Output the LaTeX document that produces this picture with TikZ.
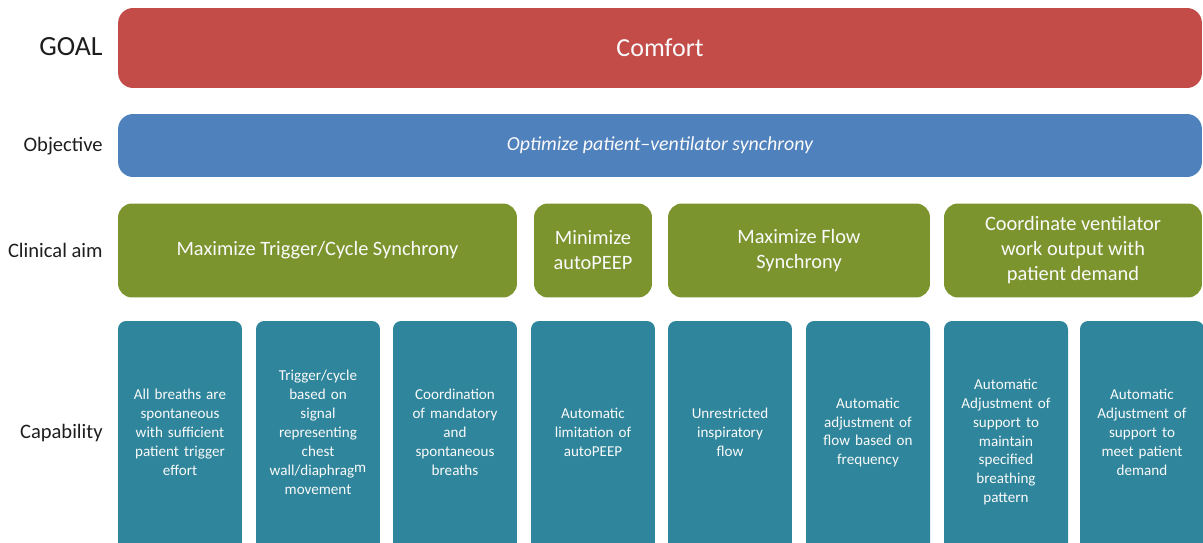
\documentclass[tikz,border=0pt]{standalone}
\usepackage{fontspec}
\setmainfont{Carlito}
\usepackage{xcolor}
\definecolor{Col1}{RGB}{195,76,72}
\definecolor{Col2}{RGB}{79,129,189}
\definecolor{Col3}{RGB}{124,148,46}
\definecolor{Col4}{RGB}{47,133,155}
\definecolor{ColTxt}{RGB}{30,30,30}
\usepackage{tikz}
\tikzstyle{RowLabel}=[anchor=east,inner sep=0pt,text=ColTxt,
font=\fontsize{11.7}{14}\selectfont]
\tikzstyle{Box}=[inner sep=0pt,text=white!96!gray,align=center]
\tikzstyle{WideBox}=[Box,minimum width=21.68cm,rounded corners=.3cm]
\tikzstyle{AimBox}=[Box,fill=Col3,minimum height=1.88cm,rounded corners=.28cm,
font=\fontsize{11.6}{14.2}\selectfont]
\tikzstyle{CapBox}=[Box,fill=Col4,minimum width=2.48cm,minimum height=4.8cm,
text width=2.3cm,rounded corners=.16cm,font=\fontsize{8.6}{10.8}\selectfont,
execute at end node={\endgraf\vspace*{.34cm}}]

\begin{document}
\begin{tikzpicture}[x=.02cm,y=-.02cm]
    \useasboundingbox(0,0)rectangle(1203,543);
    % row labels
    \node[RowLabel,font=\fontsize{15.8}{18}\selectfont](lgoal)at(103,47){GOAL};
    \node[RowLabel](lobj)at(103,146){Objective};
    \node[RowLabel](laim)at(103,250){Clinical aim};
    \node[RowLabel](lcap)at(103,433.5){Capability};
    % goal and objective bars
    \node[WideBox,fill=Col1,minimum height=1.6cm,
        font=\fontsize{14.8}{17}\selectfont](goal)at(660,48){Comfort};
    \node[WideBox,fill=Col2,minimum height=1.26cm,
        font=\fontsize{11.3}{13}\selectfont\itshape](obj)at(660,145.5){
        Optimize patient--ventilator synchrony};
    % clinical aims
    \node[AimBox,minimum width=7.98cm](aim1)at(317.5,250.5){
        Maximize Trigger/Cycle Synchrony};
    \node[AimBox,minimum width=2.36cm](aim2)at(593,250.5){
        Minimize\\autoPEEP};
    \node[AimBox,minimum width=5.24cm](aim3)at(799,250.5){
        Maximize Flow\\Synchrony};
    \node[AimBox,minimum width=5.16cm](aim4)at(1073,250.5){
        Coordinate ventilator\\work output with\\patient demand};
    % capabilities
    \node[CapBox](cap1)at(180,441){
        All breaths are\\spontaneous\\with sufficient\\patient trigger\\effort};
    \node[CapBox](cap2)at(318,441){
        Trigger/cycle\\based on\\signal\\representing\\chest\\
        wall/diaphrag\raisebox{.45ex}{m}\\movement};
    \node[CapBox](cap3)at(455,441){
        Coordination\\of mandatory\\and\\spontaneous\\breaths};
    \node[CapBox](cap4)at(593,441){
        Automatic\\limitation of\\autoPEEP};
    \node[CapBox](cap5)at(730,441){
        Unrestricted\\inspiratory\\flow};
    \node[CapBox](cap6)at(868,441){
        Automatic\\adjustment of\\flow based on\\frequency};
    % this one sits a little lower in its box
    \node[CapBox,execute at end node={\vspace*{-.38cm}}](cap7)at(1006,441){
        Automatic\\Adjustment of\\support to\\maintain\\specified\\breathing\\pattern};
    \node[CapBox](cap8)at(1142,441){
        Automatic\\Adjustment of\\support to\\meet patient\\demand};
\end{tikzpicture}
\end{document}
